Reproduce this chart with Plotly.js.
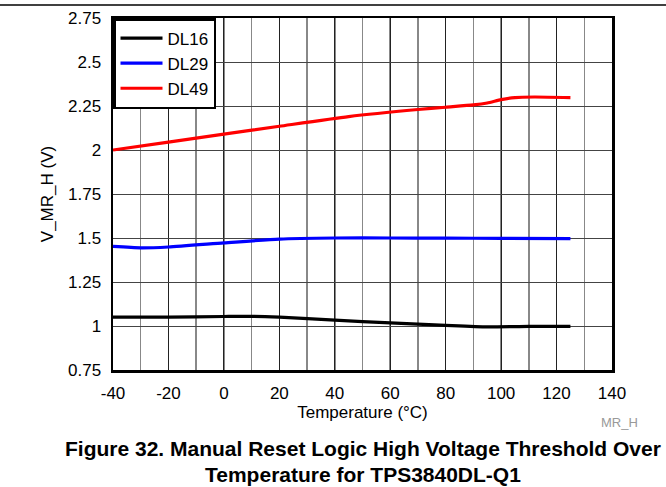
<!DOCTYPE html>
<html>
<head>
<meta charset="utf-8">
<script src="https://cdn.plot.ly/plotly-3.0.1.min.js"></script>
<style>html,body{margin:0;padding:0;background:#fff;}#chart{width:666px;height:487px;}</style>
</head>
<body>
<div id="chart"></div>
<script>
const tempDL16 = [-40, -20, 0, 10, 20, 40, 60, 80, 95, 110, 125];
const valDL16  = [1.05, 1.05, 1.054, 1.055, 1.05, 1.033, 1.018, 1.004, 0.995, 0.998, 0.998];
const tempDL29 = [-40, -30, -20, 0, 20, 40, 60, 80, 100, 125];
const valDL29  = [1.452, 1.444, 1.449, 1.472, 1.494, 1.5, 1.5, 1.499, 1.498, 1.497];
const tempDL49 = [-40, -20, 0, 20, 45, 70, 80, 90, 95, 100, 105, 112, 125];
const valDL49  = [2.0, 2.045, 2.09, 2.135, 2.19, 2.23, 2.243, 2.256, 2.267, 2.286, 2.298, 2.301, 2.298];
const seriesNames = ['DL16', 'DL29', 'DL49'];
const seriesColors = ['#000000', '#0000ff', '#ff0000'];
const xTicks = [-40, -20, 0, 20, 40, 60, 80, 100, 120, 140];
const yTicks = [0.75, 1, 1.25, 1.5, 1.75, 2, 2.25, 2.5, 2.75];

const xs = [tempDL16, tempDL29, tempDL49];
const ys = [valDL16, valDL29, valDL49];
const data = seriesNames.map((n, i) => ({
  x: xs[i], y: ys[i], name: n, type: 'scatter', mode: 'lines',
  line: {color: seriesColors[i], width: 3.2, shape: 'spline', smoothing: 0.6}
}));

const fam = 'Liberation Sans, Arial, sans-serif';
const font = {family: fam, size: 17, color: '#000'};
const layout = {
  width: 666, height: 487,
  margin: {l: 113, r: 54, t: 18, b: 117},
  paper_bgcolor: '#fff', plot_bgcolor: '#fff',
  font: font,
  showlegend: true,
  legend: {x: 0, y: 1, xanchor: 'left', yanchor: 'top', bgcolor: '#fff',
    bordercolor: '#000', borderwidth: 2.5, font: font,
    tracegroupgap: 0, itemwidth: 42},
  xaxis: {range: [-40, 140], tickvals: xTicks, ticktext: xTicks.map(String),
    showgrid: true, gridcolor: '#222', gridwidth: 1,
    minor: {dtick: 10, tick0: -40, showgrid: true, gridcolor: '#888', gridwidth: 1.5},
    showline: true, linecolor: '#000', linewidth: 2.5, mirror: true,
    ticks: '', zeroline: false, tickfont: font, ticklabelstandoff: 6,
    title: {text: 'Temperature (°C)', font: font, standoff: 4}},
  yaxis: {range: [0.75, 2.75], tickvals: yTicks, ticktext: yTicks.map(String),
    showgrid: true, gridcolor: '#444', gridwidth: 1,
    showline: true, linecolor: '#000', linewidth: 2.5, mirror: true,
    ticks: '', zeroline: false, tickfont: font, ticklabelstandoff: 6,
    title: {text: 'V_MR_H (V)', font: font, standoff: 10}},
  shapes: [{type: 'line', xref: 'paper', yref: 'paper', x0: -0.5, x1: 1.5,
    y0: 1 + 13/352, y1: 1 + 13/352, line: {color: '#000', width: 1.5}}],
  annotations: [
    {xref: 'paper', yref: 'paper', x: 1.015, y: -52/352, xanchor: 'center', yanchor: 'middle',
      text: 'MR_H', showarrow: false, font: {family: fam, size: 13, color: '#999'}},
    {xref: 'paper', yref: 'paper', x: 0.5, y: -78/352, xanchor: 'center', yanchor: 'middle',
      text: '<b>Figure 32. Manual Reset Logic High Voltage Threshold Over</b>', showarrow: false,
      font: {family: fam, size: 21, color: '#000'}},
    {xref: 'paper', yref: 'paper', x: 0.5, y: -104/352, xanchor: 'center', yanchor: 'middle',
      text: '<b>Temperature for TPS3840DL-Q1</b>', showarrow: false,
      font: {family: fam, size: 21, color: '#000'}}
  ]
};
Plotly.newPlot('chart', data, layout, {displayModeBar: false, staticPlot: true});
</script>
</body>
</html>
